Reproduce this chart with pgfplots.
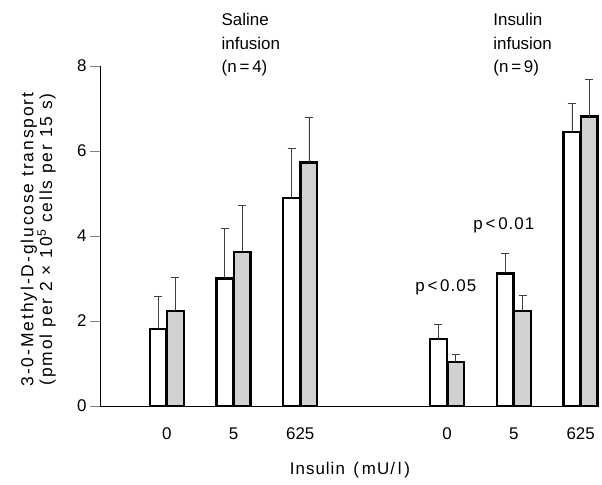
\documentclass[border=0pt]{standalone}
\usepackage{fontspec}
\setmainfont{Liberation Sans}
\newfontfamily\widefont[LetterSpace=11]{Liberation Sans}
\newfontfamily\midfont[LetterSpace=6]{Liberation Sans}
\usepackage{pgfplots}
\pgfplotsset{compat=1.18}

\begin{document}
\begin{tikzpicture}
\begin{axis}[
    scale only axis,
    width=498bp, height=340bp,
    xmin=-1, xmax=6.46, ymin=0, ymax=8,
    axis x line=bottom, axis y line=left,
    axis line style={-, line width=0.8pt},
    ytick={0,2,4,6,8},
    tick align=outside, major tick length=10bp,
    y tick style={line width=0.8pt},
    xtick={0,1,2,4.2,5.2,6.2},
    xticklabels={0,5,625,0,5,625},
    x tick style={draw=none},
    xticklabel style={yshift=-8bp},
    font=\fontsize{17}{19}\selectfont,
    /pgf/number format/assume math mode=true,
    ylabel={3-0-Methyl-D-glucose transport\\(pmol per 2 × 10\textsuperscript{5} cells per 15 s)},
    ylabel style={align=center, font=\fontsize{17.5}{19}\widefont, at={(axis description cs:-0.124,0.49)}, anchor=center},
    xlabel={Insulin\, (\,mU/\,l\,)},
    xlabel style={font=\fontsize{17}{19}\midfont, at={(axis description cs:0.502,-0.188)}, anchor=center},
    ybar, bar width=0.25,
    clip=false,
]
% white bars
\addplot[fill=white, draw=black, line width=2.4pt, bar shift=-0.13,
    error bars/.cd, y dir=plus, y explicit,
    error bar style={line width=0.8pt, black!75},
    error mark options={rotate=90, mark size=4bp, line width=0.8pt, black!75}]
coordinates {
    (0,1.81) +- (0,0.78)
    (1,3.00) +- (0,1.19)
    (2,4.89) +- (0,1.18)
    (4.2,1.58) +- (0,0.35)
    (5.2,3.12) +- (0,0.47)
    (6.2,6.45) +- (0,0.66)
};
% dotted (grey) bars
\addplot[fill=black!18, draw=black, line width=2.4pt, bar shift=0.13,
    error bars/.cd, y dir=plus, y explicit,
    error bar style={line width=0.8pt, black!75},
    error mark options={rotate=90, mark size=4bp, line width=0.8pt, black!75}]
coordinates {
    (0,2.24) +- (0,0.78)
    (1,3.62) +- (0,1.11)
    (2,5.73) +- (0,1.05)
    (4.2,1.03) +- (0,0.19)
    (5.2,2.24) +- (0,0.36)
    (6.2,6.81) +- (0,0.88)
};
\node[anchor=north west, align=left, font=\fontsize{17}{23.5}\selectfont, inner sep=0pt]
    at (axis cs:0.82,9.24) {Saline\\infusion\\(n\,=\,4)};
\node[anchor=north west, align=left, font=\fontsize{17}{23.5}\selectfont, inner sep=0pt]
    at (axis cs:4.89,9.24) {Insulin\\infusion\\(n\,=\,9)};
\node[anchor=west, inner sep=0pt, font=\fontsize{17}{19}\midfont] at (axis cs:3.72,2.8) {p\,<\,0.05};
\node[anchor=west, inner sep=0pt, font=\fontsize{17}{19}\midfont] at (axis cs:4.59,4.26) {p\,<\,0.01};
\end{axis}
\pgfresetboundingbox
\path ([xshift=-100bp,yshift=-79bp]current axis.south west) rectangle ++(602bp,485bp);
\end{tikzpicture}
\end{document}
